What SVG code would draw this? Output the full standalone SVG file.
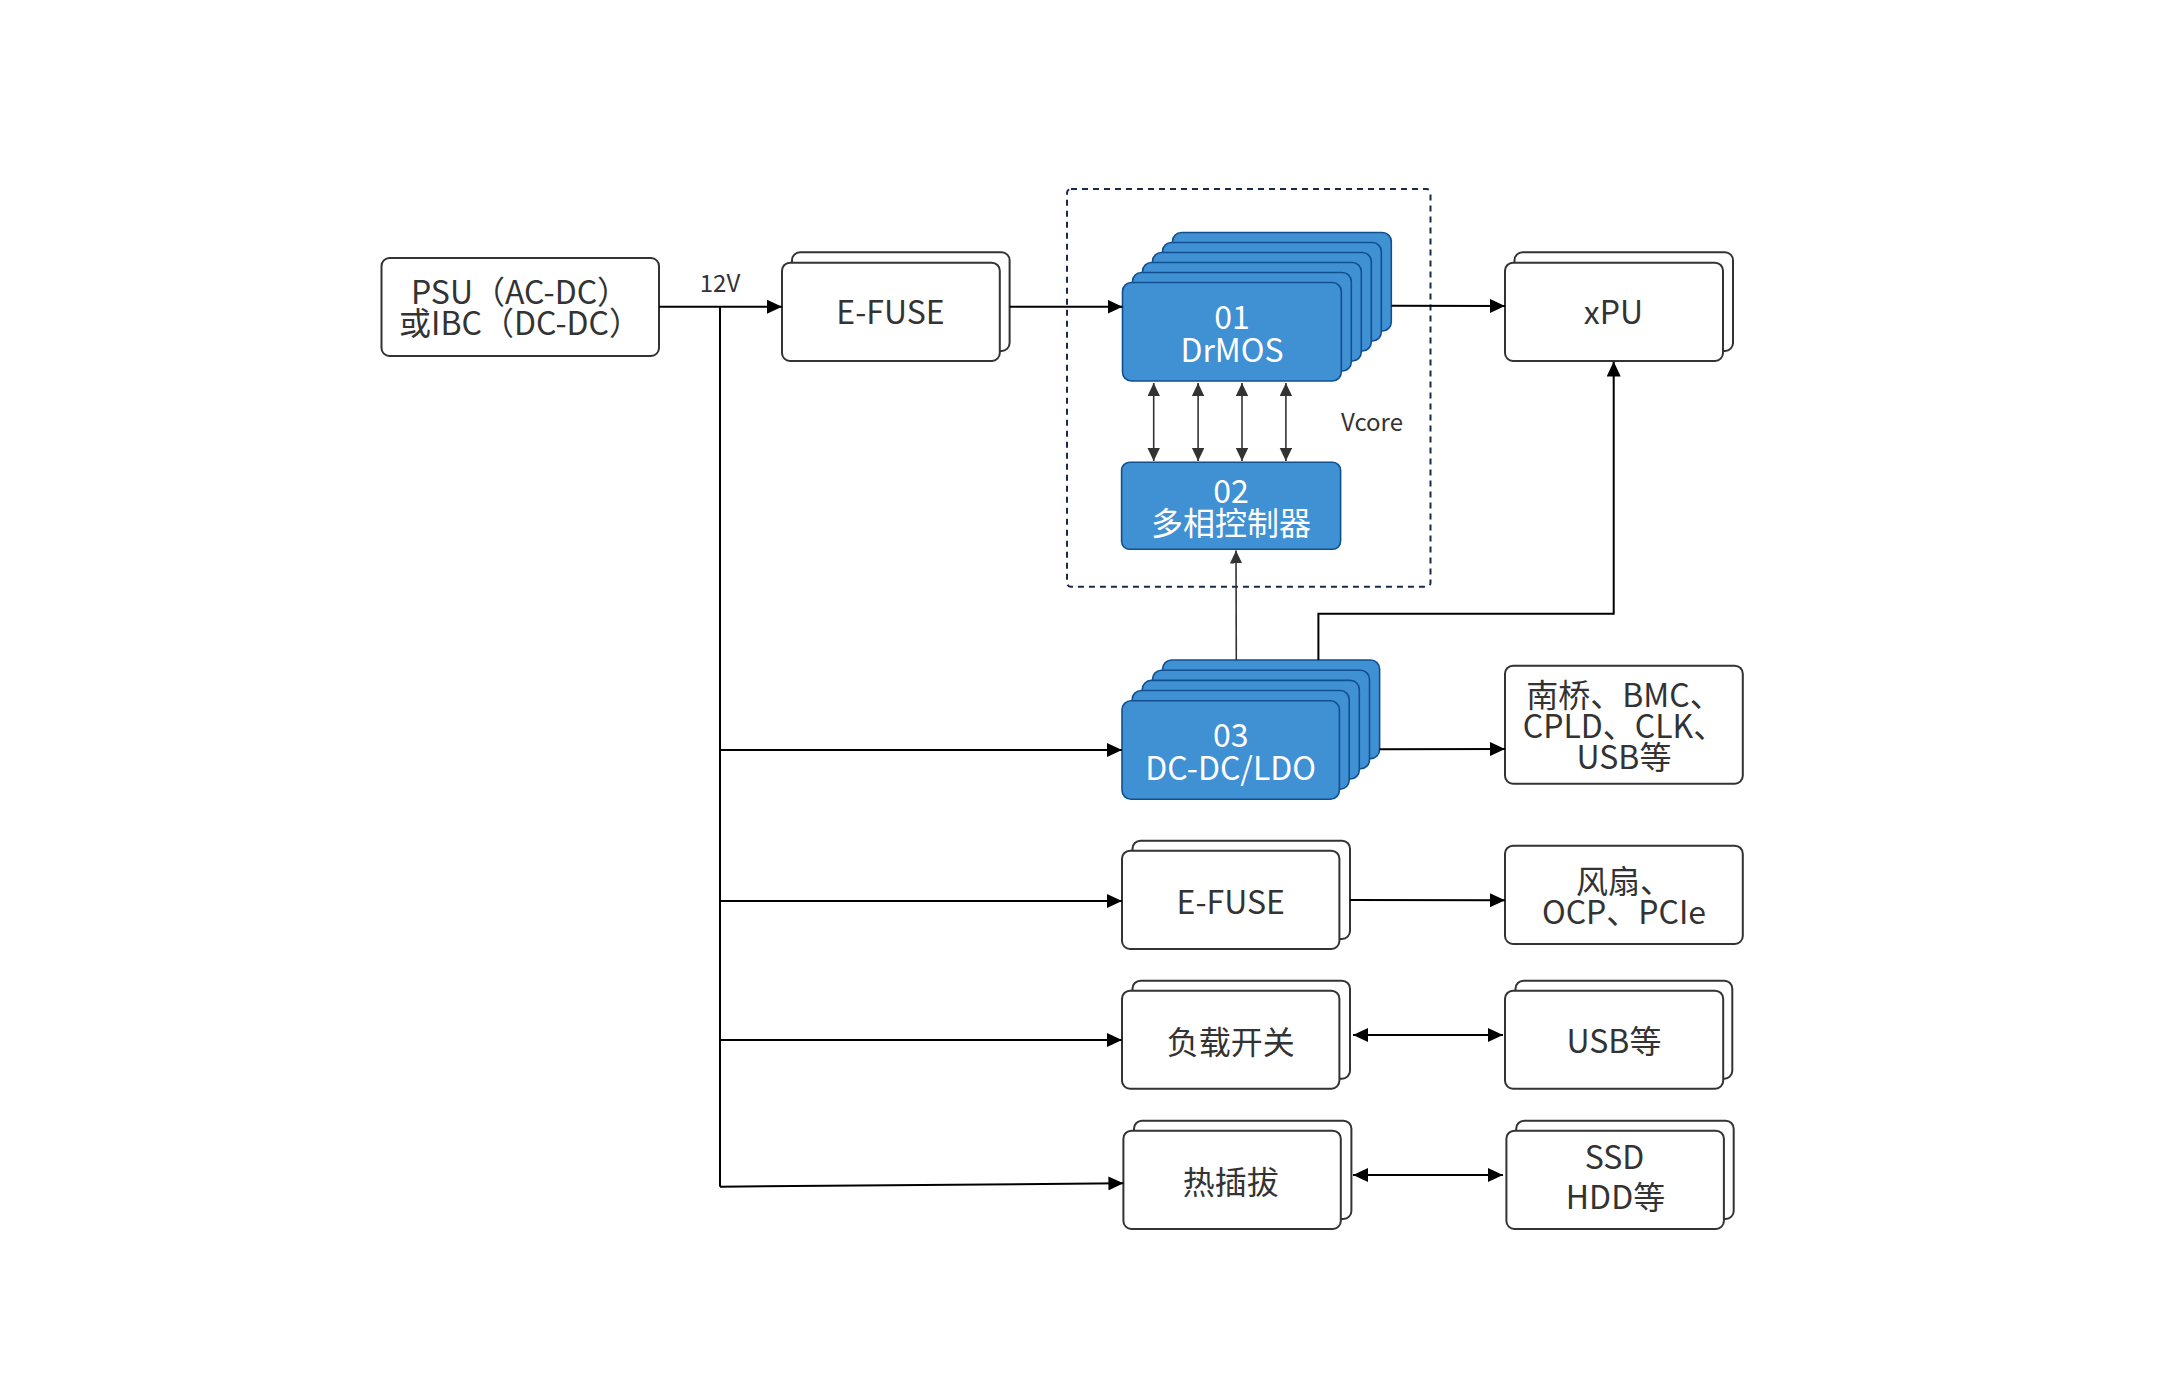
<svg xmlns="http://www.w3.org/2000/svg" width="2176" height="1400" viewBox="0 0 2176 1400">
<style>
.box{fill:#fff;stroke:#333;stroke-width:2}
.blue{fill:#4090D4;stroke:#10508F;stroke-width:1.6}
.t{font-family:"Noto Sans CJK SC","Noto Sans",sans-serif;font-size:32px;fill:#333;text-anchor:middle}
.w{fill:#fff}
.s{font-size:24px}
.ln{fill:none;stroke:#000;stroke-width:2}
.ln2{fill:none;stroke:#333;stroke-width:1.6}
.dash{fill:none;stroke:#1a2a4a;stroke-width:2;stroke-dasharray:6 5}
</style>
<defs>
<marker id="ah" markerUnits="userSpaceOnUse" markerWidth="16" markerHeight="14" refX="15" refY="7" orient="auto">
<path d="M0,0 L15,7 L0,14 z" fill="#000"/>
</marker>
<marker id="ahs" markerUnits="userSpaceOnUse" markerWidth="16" markerHeight="14" refX="15" refY="7" orient="auto-start-reverse">
<path d="M0,0 L15,7 L0,14 z" fill="#000"/>
</marker>
<marker id="ag" markerUnits="userSpaceOnUse" markerWidth="14" markerHeight="13" refX="13" refY="6.2" orient="auto-start-reverse">
<path d="M0,0 L13,6.2 L0,12.4 z" fill="#333"/>
</marker>
</defs>
<rect width="2176" height="1400" fill="#fff"/>

<g id="vcore-group">
<rect class="dash" x="1067" y="189" width="363.5" height="397.7" rx="4"/>
<text class="t s" x="1341" y="431" style="text-anchor:start">Vcore</text>
</g>

<g id="psu">
<rect class="box" x="381.5" y="258" width="277.5" height="98" rx="8"/>
<text class="t" x="520" y="304">PSU（AC-DC）</text>
<text class="t" x="520" y="335">或IBC（DC-DC）</text>
</g>

<g id="efuse1">
<rect class="box" x="792" y="252.3" width="217.6" height="98.7" rx="8"/>
<rect class="box" x="782" y="262.7" width="217.8" height="98.3" rx="8"/>
<text class="t" x="890.5" y="324">E-FUSE</text>
</g>

<g id="drmos">
<rect class="blue" x="1172.5" y="232.5" width="218.8" height="98.5" rx="9"/>
<rect class="blue" x="1162.5" y="242.5" width="218.8" height="98.5" rx="9"/>
<rect class="blue" x="1152.5" y="252.5" width="218.8" height="98.5" rx="9"/>
<rect class="blue" x="1142.5" y="262.5" width="218.8" height="98.5" rx="9"/>
<rect class="blue" x="1132.5" y="272.5" width="218.8" height="98.5" rx="9"/>
<rect class="blue" x="1122.5" y="282.5" width="218.8" height="98.5" rx="9"/>
<text class="t w" x="1232" y="328.5">01</text>
<text class="t w" x="1232" y="361.5">DrMOS</text>
</g>

<g id="ctrl">
<rect class="blue" x="1121.6" y="462.3" width="219" height="87" rx="8"/>
<text class="t w" x="1231" y="502.5">02</text>
<text class="t w" x="1231" y="534.5">多相控制器</text>
</g>

<g id="xpu">
<rect class="box" x="1514.5" y="252.3" width="218.5" height="98.7" rx="8"/>
<rect class="box" x="1505" y="262.7" width="218" height="98.3" rx="8"/>
<text class="t" x="1613.5" y="324">xPU</text>
</g>

<g id="dcdc">
<rect class="blue" x="1162.6" y="660" width="217" height="98.6" rx="9"/>
<rect class="blue" x="1152.5" y="670.2" width="217" height="98.6" rx="9"/>
<rect class="blue" x="1142.3" y="680.4" width="217" height="98.6" rx="9"/>
<rect class="blue" x="1132.2" y="690.5" width="217" height="98.6" rx="9"/>
<rect class="blue" x="1122" y="700.7" width="217.4" height="98.6" rx="9"/>
<text class="t w" x="1230.7" y="746.5">03</text>
<text class="t w" x="1230.7" y="779.5">DC-DC/LDO</text>
</g>

<g id="sb">
<rect class="box" x="1505" y="665.7" width="237.8" height="118" rx="8"/>
<text class="t" x="1624" y="706.5">南桥、BMC、</text>
<text class="t" x="1624" y="737.5">CPLD、CLK、</text>
<text class="t" x="1624" y="769">USB等</text>
</g>

<g id="efuse2">
<rect class="box" x="1132.5" y="840.7" width="217.5" height="98.3" rx="8"/>
<rect class="box" x="1122" y="850.7" width="217.4" height="98.3" rx="8"/>
<text class="t" x="1230.7" y="913.5">E-FUSE</text>
</g>

<g id="fan">
<rect class="box" x="1505" y="845.7" width="237.8" height="98.3" rx="8"/>
<text class="t" x="1624" y="892.5">风扇、</text>
<text class="t" x="1624" y="924">OCP、PCIe</text>
</g>

<g id="loadsw">
<rect class="box" x="1132.5" y="980.7" width="217.5" height="98" rx="8"/>
<rect class="box" x="1122" y="990.7" width="217.4" height="98" rx="8"/>
<text class="t" x="1230.7" y="1053.5">负载开关</text>
</g>

<g id="usb">
<rect class="box" x="1515.5" y="980.7" width="216.8" height="98" rx="8"/>
<rect class="box" x="1505" y="990.7" width="218.2" height="98" rx="8"/>
<text class="t" x="1614" y="1053">USB等</text>
</g>

<g id="hotplug">
<rect class="box" x="1134" y="1120.7" width="217.4" height="98.3" rx="8"/>
<rect class="box" x="1123.4" y="1130.7" width="217.4" height="98.3" rx="8"/>
<text class="t" x="1230.7" y="1193.5">热插拔</text>
</g>

<g id="ssd">
<rect class="box" x="1516.2" y="1120.7" width="217.5" height="98.3" rx="8"/>
<rect class="box" x="1506.4" y="1130.7" width="217.5" height="98.3" rx="8"/>
<text class="t" x="1614.5" y="1168.5">SSD</text>
<text class="t" x="1615.5" y="1208.5">HDD等</text>
</g>

<g id="connectors">
<line class="ln" x1="659" y1="306.7" x2="782" y2="306.7" marker-end="url(#ah)"/>
<text class="t s" x="720" y="292">12V</text>
<line class="ln" x1="720" y1="306.7" x2="720" y2="1186.7"/>
<line class="ln" x1="720" y1="750" x2="1122" y2="750" marker-end="url(#ah)"/>
<line class="ln" x1="720" y1="901" x2="1122" y2="901" marker-end="url(#ah)"/>
<line class="ln" x1="720" y1="1040" x2="1122" y2="1040" marker-end="url(#ah)"/>
<line class="ln" x1="720" y1="1186.7" x2="1123.4" y2="1183.3" marker-end="url(#ah)"/>
<line class="ln" x1="1009.6" y1="306.7" x2="1122.5" y2="306.7" marker-end="url(#ah)"/>
<line class="ln" x1="1391.6" y1="305.7" x2="1505" y2="306" marker-end="url(#ah)"/>
<line class="ln2" x1="1153.7" y1="383" x2="1153.7" y2="461" marker-start="url(#ag)" marker-end="url(#ag)"/>
<line class="ln2" x1="1198.1" y1="383" x2="1198.1" y2="461" marker-start="url(#ag)" marker-end="url(#ag)"/>
<line class="ln2" x1="1242" y1="383" x2="1242" y2="461" marker-start="url(#ag)" marker-end="url(#ag)"/>
<line class="ln2" x1="1285.9" y1="383" x2="1285.9" y2="461" marker-start="url(#ag)" marker-end="url(#ag)"/>
<line class="ln2" x1="1236.3" y1="660" x2="1236" y2="550.5" marker-end="url(#ag)"/>
<polyline class="ln" points="1318.4,660 1318.4,613.7 1613.7,613.7 1613.7,361.5" marker-end="url(#ah)"/>
<line class="ln" x1="1379.4" y1="749.3" x2="1505" y2="749" marker-end="url(#ah)"/>
<line class="ln" x1="1350" y1="900" x2="1505" y2="900.3" marker-end="url(#ah)"/>
<line class="ln" x1="1353" y1="1035" x2="1503" y2="1035" marker-start="url(#ahs)" marker-end="url(#ahs)"/>
<line class="ln" x1="1353" y1="1175" x2="1503" y2="1175" marker-start="url(#ahs)" marker-end="url(#ahs)"/>
</g>
</svg>
